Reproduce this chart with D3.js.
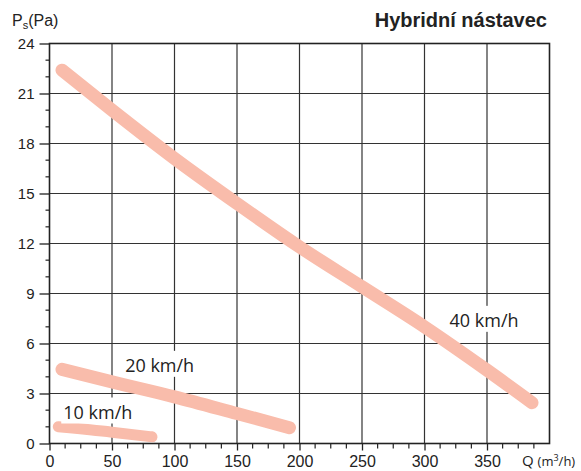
<!DOCTYPE html>
<html>
<head>
<meta charset="utf-8">
<script src="https://cdn.jsdelivr.net/npm/d3@7"></script>
<style>
  body { margin: 0; background: #fff; }
  svg { display: block; }
</style>
</head>
<body>
<script>
const width = 581;
const height = 471;

// flow Q (m3/h) vs static pressure Ps (Pa)
const q40 = [10, 50, 100, 150, 200, 250, 300, 350, 386];
const p40 = [22.4, 20.0, 17.1, 14.4, 11.8, 9.4, 7.0, 4.4, 2.45];
const q20 = [10, 50, 100, 150, 192];
const p20 = [4.45, 3.7, 2.8, 1.8, 0.95];
const q10 = [7, 50, 82];
const p10 = [1.0, 0.68, 0.4];

const seriesNames = ['40 km/h', '20 km/h', '10 km/h'];
const xTicks = [0, 50, 100, 150, 200, 250, 300, 350];
const yTicks = [0, 3, 6, 9, 12, 15, 18, 21, 24];

const lineColor = '#f9bcab';
const gridColor = '#333';

const x = d3.scaleLinear()
    .domain([0, 400])
    .range([49.5, 549.5]);

const y = d3.scaleLinear()
    .domain([0, 24])
    .range([443.5, 43.5]);

const svg = d3.create('svg')
    .attr('width', width)
    .attr('height', height)
    .style('font-family', '"Liberation Sans", Arial, sans-serif');

// grid
svg.append('g')
    .selectAll('line')
    .data(xTicks.slice(1))
    .join('line')
    .attr('x1', d => x(d)).attr('x2', d => x(d))
    .attr('y1', y(0)).attr('y2', y(24))
    .attr('stroke', gridColor)
    .attr('stroke-width', 1.2);

svg.append('g')
    .selectAll('line')
    .data(yTicks.slice(1))
    .join('line')
    .attr('x1', x(0)).attr('x2', x(400))
    .attr('y1', d => y(d)).attr('y2', d => y(d))
    .attr('stroke', gridColor)
    .attr('stroke-width', 1.2);

// minor ticks
const xMinor = d3.range(0, 400, 12.5).filter(d => d % 50 !== 0);
const yMinor = d3.range(0, 24, 1).filter(d => d % 3 !== 0);

const x_axis = d3.axisBottom(x)
    .tickValues(xTicks)
    .tickSize(7)
    .tickPadding(5)
    .tickSizeOuter(0);

const y_axis = d3.axisLeft(y)
    .tickValues(yTicks)
    .tickSize(10)
    .tickPadding(5)
    .tickSizeOuter(0);

const gx = svg.append('g')
    .attr('transform', `translate(0,${y(0)})`)
    .call(x_axis);

gx.selectAll('.tick line').attr('stroke', '#222').attr('stroke-width', 1.3);
gx.selectAll('.tick text')
    .attr('font-size', 16)
    .attr('font-family', '"Liberation Sans", Arial, sans-serif')
    .attr('fill', '#222');

gx.append('g')
    .selectAll('line')
    .data(xMinor)
    .join('line')
    .attr('x1', d => x(d)).attr('x2', d => x(d))
    .attr('y1', 0).attr('y2', 5)
    .attr('stroke', '#222')
    .attr('stroke-width', 1.2);

const gy = svg.append('g')
    .attr('transform', `translate(${x(0)},0)`)
    .call(y_axis);

gy.selectAll('.tick line').attr('stroke', '#222').attr('stroke-width', 1.3);
gy.selectAll('.tick text')
    .attr('font-size', 15)
    .attr('font-family', '"Liberation Sans", Arial, sans-serif')
    .attr('fill', '#222');

gy.append('g')
    .selectAll('line')
    .data(yMinor)
    .join('line')
    .attr('x1', -4).attr('x2', 0)
    .attr('y1', d => y(d)).attr('y2', d => y(d))
    .attr('stroke', '#222')
    .attr('stroke-width', 1.2);

svg.selectAll('.domain').remove();

// frame
svg.append('rect')
    .attr('x', x(0))
    .attr('y', y(24))
    .attr('width', x(400) - x(0))
    .attr('height', y(0) - y(24))
    .attr('fill', 'none')
    .attr('stroke', '#222')
    .attr('stroke-width', 1.6);

// curves
const curve = d3.line()
    .x(d => x(d[0]))
    .y(d => y(d[1]))
    .curve(d3.curveMonotoneX);

const series = [
    { q: q40, p: p40, w: 13 },
    { q: q20, p: p20, w: 13 },
    { q: q10, p: p10, w: 11 }
];

svg.append('g')
    .selectAll('path')
    .data(series)
    .join('path')
    .attr('d', s => curve(s.q.map((d, i) => [d, s.p[i]])))
    .attr('fill', 'none')
    .attr('stroke', lineColor)
    .attr('stroke-width', s => s.w)
    .attr('stroke-linecap', 'round')
    .attr('stroke-linejoin', 'round');

// series labels (white box behind, hides grid)
const labelPos = [
    { q: 320, p: 7.0 },
    { q: 60.5, p: 4.3 },
    { q: 11, p: 1.5 }
];

seriesNames.forEach((name, i) => {
    const g = svg.append('g');
    const t = g.append('text')
        .attr('x', x(labelPos[i].q))
        .attr('y', y(labelPos[i].p))
        .attr('font-family', '"Open Sans", sans-serif')
        .attr('font-size', 18)
        .attr('fill', '#222')
        .text(name);
    g.insert('rect', 'text')
        .attr('class', 'bg')
        .datum(t.node());
});

// title and axis labels
svg.append('text')
    .attr('x', 547)
    .attr('y', 27)
    .attr('text-anchor', 'end')
    .attr('font-weight', 'bold')
    .attr('font-size', 20)
    .attr('fill', '#222')
    .text('Hybridní nástavec');

const ps = svg.append('text')
    .attr('x', 12)
    .attr('y', 26)
    .attr('font-size', 16)
    .attr('fill', '#222');
ps.append('tspan').text('P');
ps.append('tspan').attr('font-size', 11).attr('dy', 3).text('s');
ps.append('tspan').attr('dy', -3).text('(Pa)');

const ql = svg.append('text')
    .attr('x', 522)
    .attr('y', 466)
    .attr('font-family', '"Open Sans", sans-serif')
    .attr('font-size', 15)
    .attr('fill', '#222');
ql.append('tspan').text('Q ');
ql.append('tspan').attr('font-size', 13).text('(m');
ql.append('tspan').attr('font-size', 9).attr('dy', -5).text('3');
ql.append('tspan').attr('font-size', 13).attr('dy', 5).text('/h)');

document.querySelector('body').appendChild(svg.node());

// size label boxes once the text is laid out
svg.selectAll('rect.bg').each(function(node) {
    const bb = node.getBBox();
    d3.select(this)
        .attr('x', bb.x - 2)
        .attr('y', bb.y - 2)
        .attr('width', bb.width + 4)
        .attr('height', bb.height + 2)
        .attr('fill', '#fff');
});
</script>
</body>
</html>
